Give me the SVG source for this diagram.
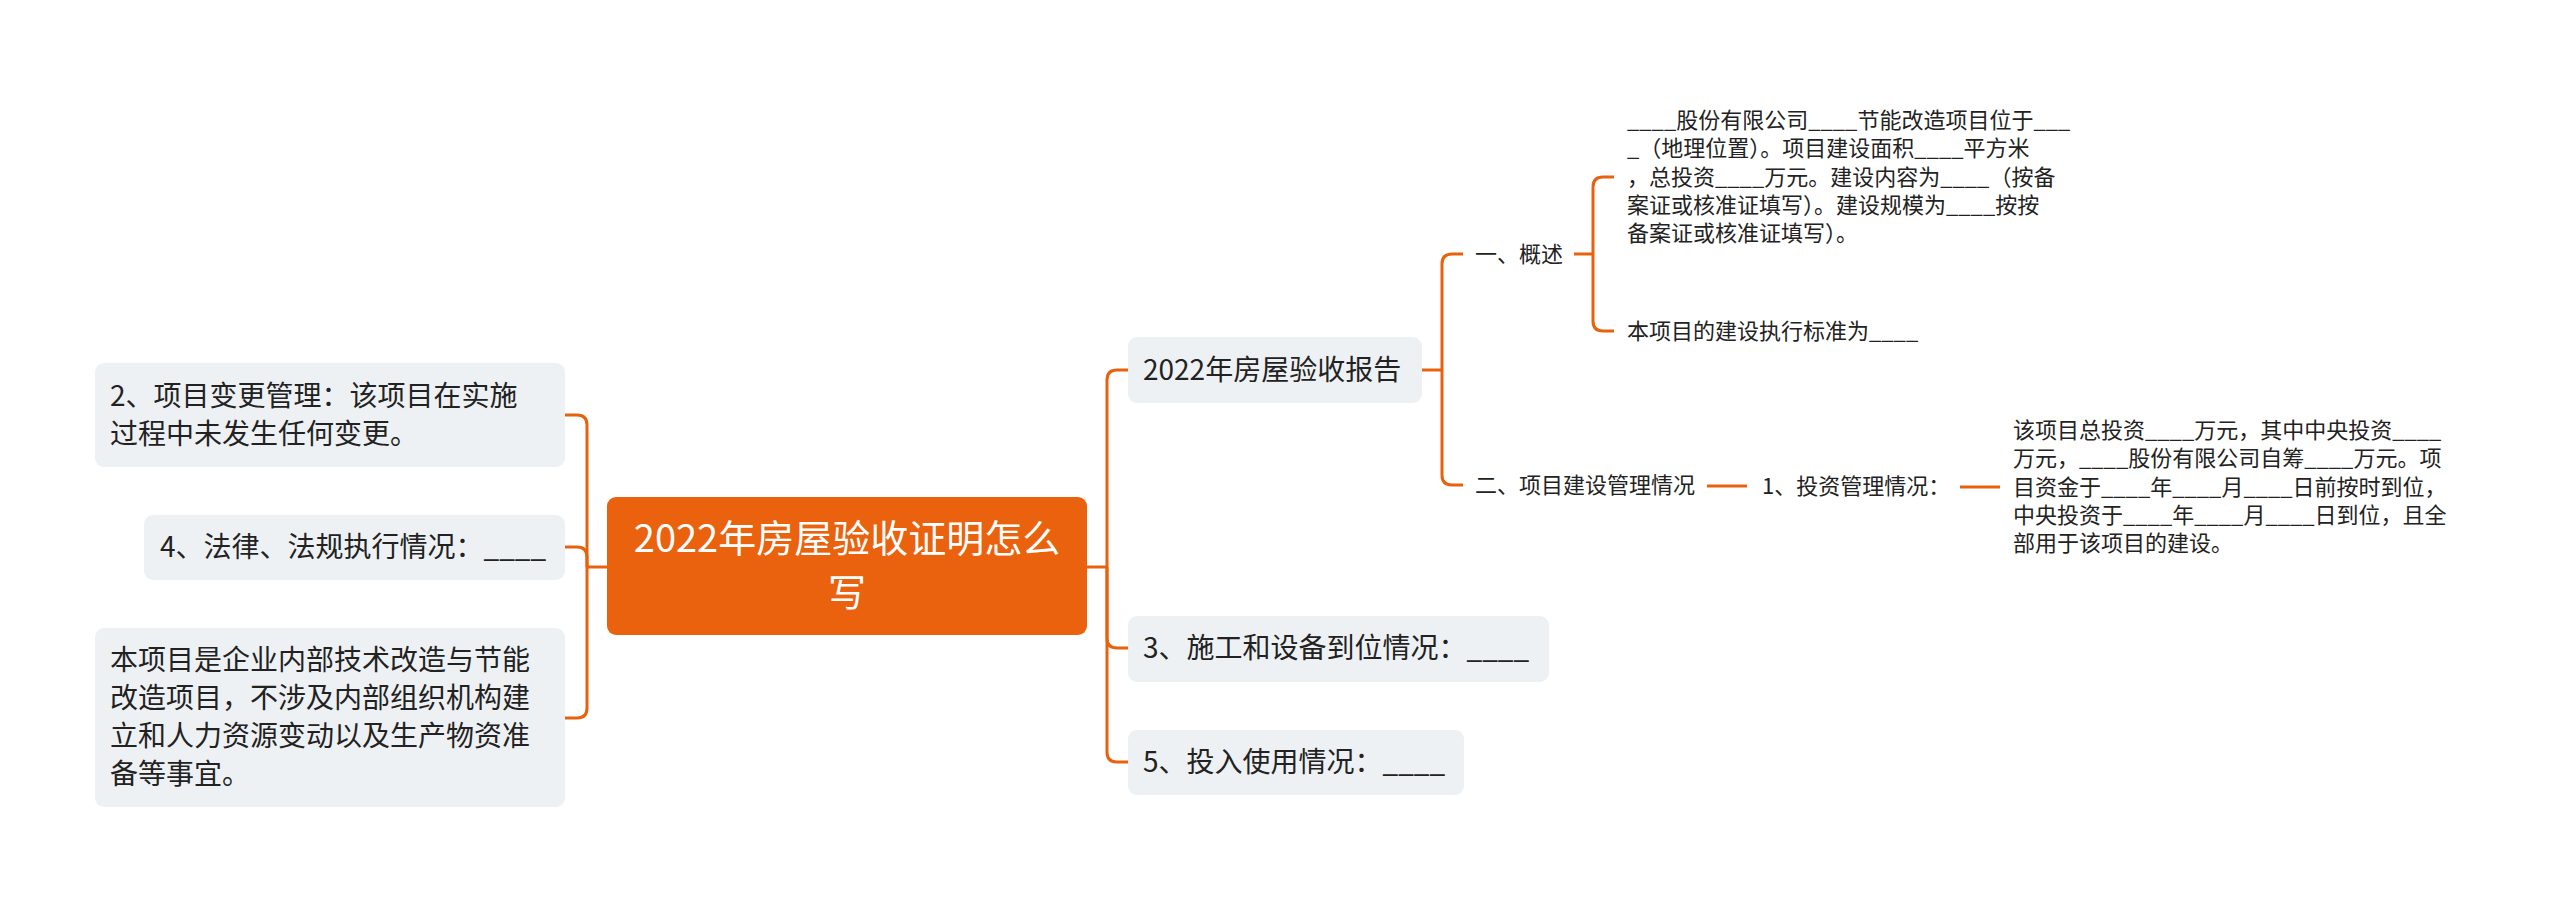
<svg xmlns="http://www.w3.org/2000/svg" width="2560" height="903" viewBox="0 0 2560 903">
<style>
text{font-family:"Noto Sans CJK SC","Noto Sans",sans-serif;fill:#222}
.c{fill:none;stroke:#E8620E;stroke-width:3}
.box{fill:#EEF1F4}
.root{fill:#EA620D}
.rt{font-size:38px;fill:#fff}
.l1{font-size:28px}
.l2{font-size:22px}
</style>
<rect width="2560" height="903" fill="#fff"/>
<g id="connectors">
<path class="c" d="M607,567 H587"/>
<path class="c" d="M587,567 V425 Q587,415 577,415 H565"/>
<path class="c" d="M587,567 V557 Q587,547 577,547 H565"/>
<path class="c" d="M587,567 V708 Q587,718 577,718 H565"/>
<path class="c" d="M1087,567 H1107"/>
<path class="c" d="M1107,567 V380 Q1107,370 1117,370 H1128"/>
<path class="c" d="M1107,567 V638 Q1107,648 1117,648 H1128"/>
<path class="c" d="M1107,567 V752 Q1107,762 1117,762 H1128"/>
<path class="c" d="M1422,370 H1442"/>
<path class="c" d="M1442,370 V264 Q1442,254 1452,254 H1463"/>
<path class="c" d="M1442,370 V475 Q1442,485 1452,485 H1463"/>
<path class="c" d="M1574,254 H1593"/>
<path class="c" d="M1593,254 V187 Q1593,177 1603,177 H1614"/>
<path class="c" d="M1593,254 V321 Q1593,331 1603,331 H1614"/>
<path class="c" d="M1707,486 H1747"/>
<path class="c" d="M1960,487 H2000"/>
</g>
<g id="root">
<rect class="root" x="607" y="497" width="480" height="138" rx="9"/>
<text class="rt" x="847" y="552" text-anchor="middle">2022年房屋验收证明怎么</text>
<text class="rt" x="847" y="606" text-anchor="middle">写</text>
</g>
<g id="n-change">
<rect class="box" x="95" y="363" width="470" height="104" rx="9"/>
<text class="l1" x="110" y="406">2、项目变更管理：该项目在实施</text>
<text class="l1" x="110" y="444">过程中未发生任何变更。</text>
</g>
<g id="n-law">
<rect class="box" x="144" y="515" width="421" height="65" rx="9"/>
<text class="l1" x="160" y="557">4、法律、法规执行情况：____</text>
</g>
<g id="n-desc">
<rect class="box" x="95" y="628" width="470" height="179" rx="9"/>
<text class="l1" x="110" y="670">本项目是企业内部技术改造与节能</text>
<text class="l1" x="110" y="708">改造项目，不涉及内部组织机构建</text>
<text class="l1" x="110" y="746">立和人力资源变动以及生产物资准</text>
<text class="l1" x="110" y="784">备等事宜。</text>
</g>
<g id="n-report">
<rect class="box" x="1128" y="337" width="294" height="66" rx="9"/>
<text class="l1" x="1143" y="380">2022年房屋验收报告</text>
</g>
<g id="n-construct">
<rect class="box" x="1128" y="616" width="421" height="66" rx="9"/>
<text class="l1" x="1143" y="658">3、施工和设备到位情况：____</text>
</g>
<g id="n-use">
<rect class="box" x="1128" y="730" width="336" height="65" rx="9"/>
<text class="l1" x="1143" y="772">5、投入使用情况：____</text>
</g>
<g id="n-overview">
<text class="l2" x="1475" y="262">一、概述</text>
</g>
<g id="n-overview-text">
<text class="l2" x="1627" y="128">____股份有限公司____节能改造项目位于___</text>
<text class="l2" x="1627" y="156">_（地理位置）。项目建设面积____平方米</text>
<text class="l2" x="1627" y="185">，总投资____万元。建设内容为____（按备</text>
<text class="l2" x="1627" y="213">案证或核准证填写）。建设规模为____按按</text>
<text class="l2" x="1627" y="241">备案证或核准证填写）。</text>
</g>
<g id="n-standard">
<text class="l2" x="1627" y="339">本项目的建设执行标准为____</text>
</g>
<g id="n-manage">
<text class="l2" x="1475" y="493">二、项目建设管理情况</text>
</g>
<g id="n-invest">
<text class="l2" x="1762" y="494">1、投资管理情况：</text>
</g>
<g id="n-invest-text">
<text class="l2" x="2013" y="438">该项目总投资____万元，其中中央投资____</text>
<text class="l2" x="2013" y="466">万元，____股份有限公司自筹____万元。项</text>
<text class="l2" x="2013" y="495">目资金于____年____月____日前按时到位，</text>
<text class="l2" x="2013" y="523">中央投资于____年____月____日到位，且全</text>
<text class="l2" x="2013" y="551">部用于该项目的建设。</text>
</g>
</svg>
